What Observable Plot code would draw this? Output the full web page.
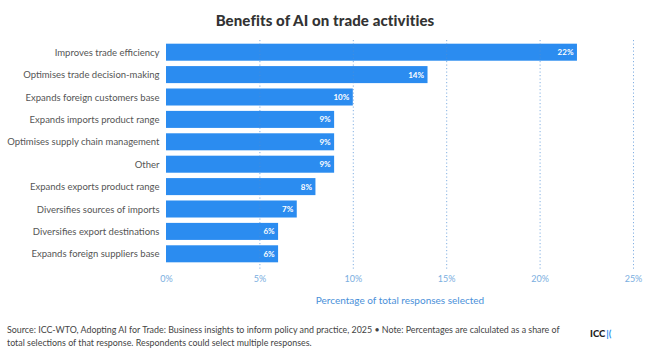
<!DOCTYPE html>
<html><head><meta charset="utf-8">
<script src="https://cdn.jsdelivr.net/npm/d3@7"></script>
<script src="https://cdn.jsdelivr.net/npm/@observablehq/plot@0.6"></script>
<style>
body{margin:0;background:#fff;font-family:Lato,"Noto Sans",sans-serif;width:650px;height:359px;overflow:hidden;position:relative}
#title{position:absolute;top:11px;left:0;width:650px;text-align:center;font-weight:900;font-size:15px;color:#333;letter-spacing:0.1px}
#chart{position:absolute;top:36px;left:0}
#foot{position:absolute;left:7px;top:323px;font-size:8.9px;color:#444;line-height:13px;width:558px}
#logo{position:absolute;left:590px;top:328px;font-size:9.5px;font-weight:900;color:#222;white-space:nowrap}
#logo span{color:#2b8cf0;font-weight:700;margin-left:1px}
</style></head>
<body>
<div id="title">Benefits of AI on trade activities</div>
<div id="chart"></div>
<div id="foot">Source: ICC-WTO, Adopting AI for Trade: Business insights to inform policy and practice, 2025 • Note: Percentages are calculated as a share of total selections of that response. Respondents could select multiple responses.</div>
<div id="logo">ICC<span>|(</span></div>
<script>
const categories = [
  "Improves trade efficiency",
  "Optimises trade decision-making",
  "Expands foreign customers base",
  "Expands imports product range",
  "Optimises supply chain management",
  "Other",
  "Expands exports product range",
  "Diversifies sources of imports",
  "Diversifies export destinations",
  "Expands foreign suppliers base"
];
const values = [22, 14, 10, 9, 9, 9, 8, 7, 6, 6];
const tickValues = [0, 5, 10, 15, 20, 25];
const gridValues = [5, 10, 15, 20, 25];
const axisTitle = "Percentage of total responses selected";

const data = categories.map((c, i) => ({category: c, value: values[i]}));

const chart = Plot.plot({
  width: 650,
  height: 274,
  marginLeft: 166,
  marginRight: 17,
  marginTop: 5,
  marginBottom: 45,
  style: {fontFamily: "Lato, 'Noto Sans', sans-serif", background: "transparent"},
  x: {domain: [0, 25]},
  y: {domain: categories, paddingInner: 0.24, paddingOuter: 0.12, round: false},
  marks: [
    Plot.barX(data, {x: "value", y: "category", fill: "#2b8cf0"}),
    Plot.ruleX(gridValues, {x: d => d, stroke: "#4f8fd6", strokeOpacity: 0.7, strokeDasharray: "1.2,2.3", insetTop: -1, insetBottom: -4}),
    Plot.text(data, {x: "value", y: "category", text: d => d.value + "%", textAnchor: "end", dx: -4, fill: "white", fontWeight: "bold", fontSize: 8}),
    Plot.axisY({tickSize: 0, tickPadding: 7, fontSize: 9.5, color: "#555", label: null}),
    Plot.axisX({ticks: tickValues, tickFormat: d => d + "%", tickSize: 0, tickPadding: 10, fontSize: 9, color: "#7aaee0", label: null}),
    Plot.text([axisTitle], {text: d => d, frameAnchor: "bottom", dy: 38, fill: "#4a90d9", fontSize: 10})
  ]
});
document.getElementById("chart").appendChild(chart);
</script>
</body></html>
